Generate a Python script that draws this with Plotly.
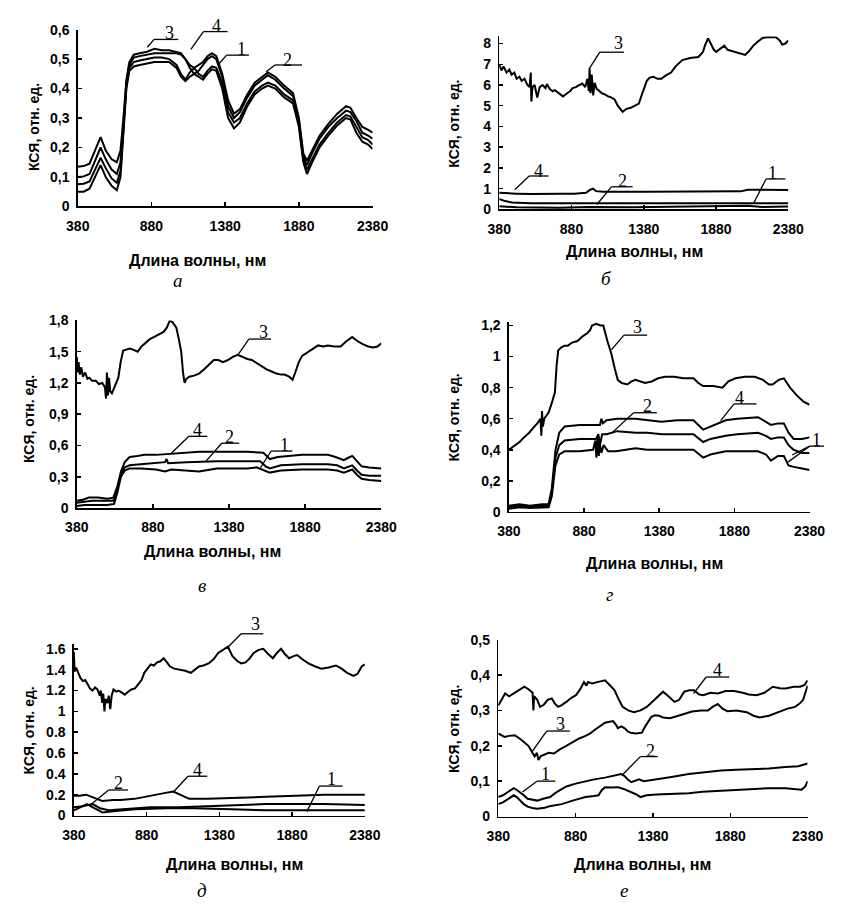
import plotly.graph_objects as go

W, H = 842, 909

# ---------------- DATA ----------------
TICK_X = [380, 880, 1380, 1880, 2380]
TICK_X_TEXT = ["380", "880", "1380", "1880", "2380"]

# panel а (shared wavelengths)
A_WL = [380, 420, 460, 500, 535, 570, 610, 645, 670, 690, 710, 730, 760, 800, 850, 900, 950, 1000, 1050, 1080,
        1110, 1140, 1170, 1200, 1230, 1260, 1290, 1320, 1360, 1400, 1440, 1480, 1530, 1580, 1630, 1670, 1720, 1780,
        1840, 1880, 1910, 1935, 1970, 2020, 2080, 2140, 2200, 2230, 2270, 2310, 2350, 2380]
A_C3 = [0.135, 0.137, 0.145, 0.19, 0.235, 0.19, 0.16, 0.15, 0.19, 0.30, 0.43, 0.49, 0.515, 0.52, 0.525, 0.535, 0.53, 0.53,
        0.525, 0.52, 0.50, 0.48, 0.47, 0.48, 0.49, 0.51, 0.52, 0.51, 0.45, 0.36, 0.315, 0.33, 0.38, 0.42, 0.44, 0.455,
        0.44, 0.41, 0.385, 0.30, 0.18, 0.155, 0.19, 0.24, 0.28, 0.315, 0.34, 0.335, 0.30, 0.27, 0.26, 0.25]
A_C4 = [0.10, 0.102, 0.11, 0.16, 0.20, 0.16, 0.125, 0.11, 0.15, 0.28, 0.42, 0.48, 0.505, 0.51, 0.515, 0.52, 0.52, 0.52,
        0.52, 0.515, 0.50, 0.47, 0.45, 0.46, 0.48, 0.50, 0.51, 0.50, 0.44, 0.34, 0.30, 0.32, 0.37, 0.41, 0.43, 0.445,
        0.43, 0.40, 0.375, 0.29, 0.17, 0.14, 0.18, 0.23, 0.27, 0.30, 0.325, 0.32, 0.29, 0.25, 0.24, 0.23]
A_C1 = [0.075, 0.077, 0.085, 0.13, 0.165, 0.13, 0.095, 0.08, 0.12, 0.26, 0.41, 0.47, 0.49, 0.495, 0.50, 0.505, 0.505, 0.50,
        0.48, 0.45, 0.43, 0.455, 0.47, 0.45, 0.44, 0.46, 0.475, 0.47, 0.42, 0.32, 0.285, 0.30, 0.35, 0.39, 0.41, 0.42,
        0.41, 0.38, 0.36, 0.28, 0.16, 0.125, 0.16, 0.21, 0.25, 0.285, 0.31, 0.305, 0.27, 0.235, 0.225, 0.21]
A_C2 = [0.05, 0.05, 0.06, 0.10, 0.14, 0.10, 0.07, 0.055, 0.10, 0.25, 0.40, 0.46, 0.475, 0.48, 0.485, 0.49, 0.49, 0.49,
        0.47, 0.44, 0.425, 0.44, 0.45, 0.44, 0.43, 0.45, 0.465, 0.46, 0.40, 0.30, 0.265, 0.285, 0.34, 0.38, 0.40, 0.41,
        0.40, 0.37, 0.35, 0.27, 0.15, 0.11, 0.15, 0.20, 0.24, 0.275, 0.30, 0.295, 0.25, 0.22, 0.21, 0.195]

# panel б
B_WL3 = [380, 395, 410, 430, 450, 465, 485, 500, 520, 535, 555, 575, 590, 598, 602, 610, 625, 643, 660, 680, 700, 710,
         730, 750, 765, 790, 821, 850, 870, 888, 910, 935, 955, 975, 990, 1000, 1005, 1012, 1020, 1030, 1040, 1055,
         1067, 1090, 1110, 1134, 1155, 1178, 1200, 1234, 1260, 1290, 1320, 1346, 1370, 1401, 1420, 1446, 1475, 1502,
         1530, 1569, 1600, 1647, 1700, 1758, 1790, 1803, 1825, 1845, 1865, 1881, 1910, 1937, 1960, 2004, 2040, 2082,
         2110, 2138, 2170, 2205, 2250, 2295, 2320, 2338, 2360, 2380]
B_C3 = [7.0, 6.7, 6.9, 6.6, 6.75, 6.5, 6.6, 6.3, 6.4, 6.2, 6.3, 6.0, 5.9, 6.6, 5.2, 5.9, 6.0, 5.4, 5.9, 6.0, 5.85, 6.05,
        5.8, 5.7, 5.75, 5.6, 5.45, 5.6, 5.7, 5.85, 5.9, 6.0, 6.07, 5.9, 6.3, 5.7, 6.8, 5.6, 6.5, 5.5, 6.1, 5.8,
        5.75, 5.6, 5.55, 5.45, 5.4, 5.3, 5.0, 4.7, 4.85, 4.9, 5.0, 5.1, 5.6, 6.2, 6.35, 6.4, 6.3, 6.3,
        6.45, 6.6, 6.9, 7.2, 7.3, 7.35, 7.6, 7.9, 8.25, 8.0, 7.7, 7.6, 7.75, 7.9, 7.7, 7.6, 7.55, 7.45,
        7.65, 7.9, 8.1, 8.28, 8.32, 8.3, 8.15, 7.95, 8.0, 8.15]
B_WL4 = [380, 420, 500, 600, 700, 800, 900, 980, 1010, 1030, 1050, 1100, 1400, 1800, 2050, 2100, 2380]
B_C4 = [0.8, 0.78, 0.76, 0.74, 0.73, 0.75, 0.76, 0.8, 0.95, 1.0, 0.88, 0.85, 0.85, 0.86, 0.87, 0.95, 0.93]
B_WL2 = [380, 420, 470, 600, 1000, 1500, 2000, 2380]
B_C2 = [0.5, 0.4, 0.33, 0.3, 0.3, 0.31, 0.32, 0.3]
B_WL1 = [380, 500, 800, 1000, 1300, 1600, 1900, 2100, 2200, 2380]
B_C1 = [0.15, 0.1, 0.08, 0.12, 0.1, 0.12, 0.14, 0.18, 0.12, 0.14]

# panel в
V_WL3 = [380, 385, 392, 400, 410, 420, 435, 450, 463, 480, 505, 525, 547, 565, 572, 578, 585, 592, 600, 611, 625, 640,
         653, 668, 685, 705, 727, 750, 780, 805, 833, 860, 886, 910, 930, 950, 971, 992, 1010, 1034, 1050, 1066, 1078,
         1088, 1100, 1119, 1150, 1183, 1215, 1246, 1280, 1310, 1340, 1373, 1405, 1437, 1470, 1500, 1530, 1564, 1595,
         1627, 1660, 1691, 1720, 1744, 1775, 1797, 1815, 1838, 1860, 1880, 1920, 1965, 2000, 2029, 2070, 2113, 2150,
         2189, 2225, 2261, 2295, 2325, 2355, 2380]
V_C3 = [1.45, 1.3, 1.4, 1.28, 1.35, 1.26, 1.3, 1.24, 1.25, 1.22, 1.22, 1.19, 1.2, 1.16, 1.05, 1.3, 1.08, 1.25, 1.12, 1.1,
        1.15, 1.2, 1.25, 1.4, 1.51, 1.52, 1.53, 1.52, 1.5, 1.55, 1.59, 1.62, 1.64, 1.66, 1.67, 1.69, 1.73, 1.8, 1.78,
        1.73, 1.62, 1.5, 1.3, 1.2, 1.24, 1.26, 1.27, 1.29, 1.33, 1.37, 1.42, 1.42, 1.4, 1.42, 1.45, 1.47, 1.45, 1.43,
        1.42, 1.39, 1.36, 1.33, 1.31, 1.29, 1.28, 1.28, 1.26, 1.23, 1.3, 1.4, 1.46, 1.48, 1.52, 1.56, 1.55, 1.56,
        1.55, 1.55, 1.6, 1.64, 1.6, 1.57, 1.55, 1.54, 1.55, 1.58]
V_WL4 = [380, 420, 460, 520, 580, 620, 645, 670, 695, 727, 780, 822, 900, 992, 1100, 1183, 1300, 1400, 1500, 1606,
         1630, 1648, 1700, 1760, 1859, 1950, 2029, 2080, 2134, 2160, 2189, 2220, 2251, 2300, 2380]
V_C4 = [0.07, 0.08, 0.1, 0.1, 0.09, 0.1, 0.2, 0.35, 0.44, 0.49, 0.5, 0.51, 0.51, 0.52, 0.53, 0.54, 0.54, 0.54, 0.54,
        0.53, 0.5, 0.47, 0.49, 0.5, 0.51, 0.51, 0.51, 0.49, 0.46, 0.48, 0.5, 0.45, 0.4, 0.39, 0.38]
V_WL2 = [380, 420, 480, 560, 620, 645, 670, 695, 727, 800, 900, 960, 970, 980, 1100, 1300, 1500, 1584, 1620, 1648,
         1720, 1859, 2029, 2090, 2134, 2189, 2220, 2251, 2300, 2380]
V_C2 = [0.05, 0.06, 0.07, 0.07, 0.07, 0.17, 0.32, 0.39, 0.41, 0.42, 0.43, 0.44, 0.47, 0.43, 0.44, 0.45, 0.45, 0.45,
        0.4, 0.38, 0.41, 0.42, 0.42, 0.41, 0.38, 0.41, 0.36, 0.32, 0.31, 0.31]
V_WL1 = [380, 430, 500, 580, 625, 645, 670, 695, 727, 800, 900, 960, 1000, 1100, 1183, 1300, 1400, 1500, 1560, 1600,
         1648, 1720, 1859, 2029, 2090, 2134, 2189, 2220, 2251, 2300, 2380]
V_C1 = [0.02, 0.03, 0.03, 0.03, 0.04, 0.14, 0.3, 0.36, 0.38, 0.38, 0.37, 0.35, 0.37, 0.36, 0.35, 0.38, 0.38, 0.38,
        0.39, 0.37, 0.34, 0.36, 0.37, 0.37, 0.36, 0.34, 0.37, 0.32, 0.28, 0.27, 0.26]

# panel г
G_WL3 = [380, 420, 451, 480, 515, 540, 569, 590, 596, 600, 606, 615, 644, 665, 686, 698, 708, 729, 750, 772, 800, 836,
         870, 901, 920, 933, 960, 990, 1008, 1035, 1061, 1085, 1104, 1130, 1168, 1195, 1222, 1255, 1286, 1330, 1372,
         1420, 1479, 1540, 1608, 1640, 1672, 1740, 1801, 1840, 1887, 1950, 2016, 2070, 2110, 2134, 2175, 2209, 2250,
         2295, 2340, 2380]
G_C3 = [0.4, 0.43, 0.45, 0.48, 0.51, 0.54, 0.57, 0.6, 0.49, 0.65, 0.55, 0.6, 0.64, 0.7, 0.77, 0.95, 1.04, 1.06, 1.07,
        1.07, 1.09, 1.1, 1.13, 1.15, 1.17, 1.2, 1.21, 1.2, 1.2, 1.1, 1.02, 0.92, 0.85, 0.83, 0.82, 0.84, 0.85, 0.84,
        0.83, 0.84, 0.86, 0.87, 0.87, 0.86, 0.86, 0.83, 0.81, 0.81, 0.8, 0.84, 0.86, 0.87, 0.87, 0.85, 0.82, 0.82,
        0.85, 0.86, 0.8, 0.75, 0.71, 0.69]
G_WL4 = [380, 450, 520, 600, 644, 665, 690, 715, 751, 850, 960, 986, 995, 1005, 1030, 1100, 1222, 1300, 1394, 1500,
         1608, 1672, 1720, 1822, 1900, 2037, 2090, 2123, 2170, 2209, 2240, 2274, 2330, 2380]
G_C4 = [0.04, 0.05, 0.04, 0.05, 0.05, 0.15, 0.4, 0.51, 0.55, 0.56, 0.56, 0.56, 0.6, 0.57, 0.59, 0.6, 0.6, 0.59, 0.58,
        0.59, 0.59, 0.53, 0.55, 0.59, 0.6, 0.61, 0.58, 0.56, 0.57, 0.57, 0.51, 0.47, 0.47, 0.48]
G_WL2 = [380, 450, 520, 600, 644, 665, 690, 715, 751, 850, 960, 975, 986, 1000, 1030, 1100, 1222, 1300, 1400, 1500,
         1608, 1672, 1720, 1822, 1900, 2037, 2090, 2123, 2170, 2209, 2240, 2274, 2330, 2380]
G_C2 = [0.03, 0.04, 0.035, 0.04, 0.04, 0.12, 0.35, 0.43, 0.46, 0.47, 0.47, 0.5, 0.43, 0.5, 0.5, 0.52, 0.51, 0.51, 0.5,
        0.5, 0.5, 0.45, 0.47, 0.49, 0.5, 0.51, 0.49, 0.47, 0.48, 0.48, 0.43, 0.4, 0.38, 0.38]
G_WL1 = [380, 450, 520, 600, 644, 665, 690, 715, 751, 850, 940, 955, 962, 970, 978, 985, 995, 1010, 1040, 1093, 1150,
         1222, 1300, 1400, 1500, 1608, 1672, 1720, 1822, 1900, 2037, 2090, 2123, 2170, 2209, 2240, 2274, 2330, 2380]
G_C1 = [0.02, 0.03, 0.025, 0.03, 0.03, 0.1, 0.3, 0.37, 0.39, 0.39, 0.4, 0.46, 0.35, 0.48, 0.36, 0.44, 0.38, 0.43,
        0.39, 0.39, 0.4, 0.41, 0.4, 0.4, 0.4, 0.4, 0.35, 0.37, 0.39, 0.39, 0.39, 0.37, 0.33, 0.36, 0.36, 0.3, 0.29,
        0.28, 0.27]

# panel д
D_WL3 = [380, 385, 395, 409, 425, 442, 458, 475, 490, 508, 525, 542, 558, 565, 575, 582, 590, 597, 610, 620, 630, 640,
         652, 670, 686, 710, 730, 755, 775, 800, 820, 845, 864, 885, 908, 930, 952, 975, 997, 1020, 1041, 1070, 1107,
         1145, 1184, 1210, 1240, 1270, 1306, 1340, 1372, 1405, 1439, 1470, 1505, 1530, 1560, 1590, 1616, 1650, 1682,
         1715, 1748, 1775, 1804, 1830, 1859, 1890, 1915, 1950, 1992, 2040, 2081, 2130, 2181, 2220, 2258, 2302, 2330,
         2358, 2380]
D_C3 = [1.57, 1.38, 1.42, 1.37, 1.32, 1.29, 1.3, 1.26, 1.22, 1.2, 1.23, 1.21, 1.15, 1.2, 1.08, 1.17, 1.0, 1.12, 1.08,
        1.15, 1.02, 1.15, 1.21, 1.19, 1.2, 1.18, 1.16, 1.19, 1.21, 1.22, 1.26, 1.3, 1.37, 1.41, 1.45, 1.44, 1.47, 1.48,
        1.51, 1.47, 1.43, 1.41, 1.4, 1.39, 1.37, 1.4, 1.43, 1.44, 1.46, 1.5, 1.56, 1.59, 1.62, 1.53, 1.48, 1.46, 1.47,
        1.51, 1.56, 1.59, 1.6, 1.55, 1.51, 1.56, 1.6, 1.55, 1.51, 1.53, 1.54, 1.5, 1.46, 1.43, 1.41, 1.42, 1.44, 1.41,
        1.37, 1.34, 1.36, 1.43, 1.45]
D_WL4 = [380, 420, 464, 520, 575, 650, 700, 797, 900, 1019, 1063, 1110, 1173, 1300, 1461, 1700, 1904, 2100, 2380]
D_C4 = [0.19, 0.19, 0.2, 0.17, 0.14, 0.15, 0.15, 0.16, 0.19, 0.22, 0.23, 0.2, 0.16, 0.16, 0.17, 0.18, 0.19, 0.2, 0.2]
D_WL1 = [380, 440, 508, 560, 619, 700, 800, 908, 1100, 1300, 1461, 1700, 1904, 2100, 2380]
D_C1 = [0.08, 0.09, 0.11, 0.07, 0.05, 0.06, 0.07, 0.08, 0.08, 0.09, 0.1, 0.11, 0.11, 0.11, 0.1]
D_WL2 = [380, 430, 470, 520, 577, 650, 800, 1019, 1200, 1461, 1700, 1904, 2100, 2380]
D_C2 = [0.05, 0.08, 0.11, 0.07, 0.03, 0.04, 0.06, 0.07, 0.07, 0.06, 0.05, 0.05, 0.05, 0.05]

# panel е
E_WL4 = [380, 424, 450, 486, 520, 549, 575, 590, 602, 607, 612, 632, 650, 674, 700, 726, 745, 767, 790, 820, 850, 882,
         910, 934, 950, 960, 986, 1020, 1070, 1100, 1132, 1160, 1184, 1220, 1257, 1300, 1340, 1390, 1445, 1480, 1519,
         1550, 1582, 1615, 1645, 1680, 1707, 1750, 1801, 1850, 1905, 1960, 2000, 2051, 2100, 2155, 2200, 2238, 2290,
         2332, 2360, 2380]
E_C4 = [0.314, 0.348, 0.34, 0.35, 0.36, 0.367, 0.36, 0.353, 0.35, 0.3, 0.34, 0.33, 0.31, 0.316, 0.33, 0.334, 0.32,
        0.31, 0.315, 0.324, 0.335, 0.343, 0.36, 0.38, 0.37, 0.38, 0.376, 0.38, 0.385, 0.372, 0.357, 0.33, 0.31, 0.3,
        0.295, 0.3, 0.31, 0.33, 0.353, 0.34, 0.324, 0.33, 0.353, 0.357, 0.357, 0.345, 0.343, 0.35, 0.348, 0.355,
        0.355, 0.35, 0.345, 0.343, 0.35, 0.367, 0.363, 0.362, 0.367, 0.367, 0.372, 0.385]
E_WL3 = [380, 420, 450, 486, 520, 549, 575, 601, 615, 630, 640, 653, 680, 705, 740, 778, 820, 861, 900, 944, 975, 1007,
         1040, 1070, 1100, 1122, 1140, 1153, 1175, 1195, 1220, 1236, 1270, 1309, 1330, 1351, 1370, 1392, 1420, 1445,
         1490, 1528, 1580, 1632, 1690, 1736, 1765, 1799, 1830, 1861, 1920, 1986, 2030, 2070, 2130, 2195, 2250, 2299,
         2330, 2351, 2370, 2380]
E_C3 = [0.235, 0.225, 0.228, 0.23, 0.22, 0.21, 0.2, 0.18, 0.17, 0.18, 0.16, 0.17, 0.175, 0.18, 0.178, 0.19, 0.2, 0.21,
        0.22, 0.228, 0.235, 0.246, 0.255, 0.265, 0.268, 0.27, 0.26, 0.25, 0.255, 0.25, 0.24, 0.237, 0.235, 0.237,
        0.255, 0.27, 0.282, 0.286, 0.285, 0.28, 0.278, 0.283, 0.29, 0.297, 0.3, 0.3, 0.31, 0.318, 0.305, 0.298, 0.3,
        0.295, 0.285, 0.28, 0.285, 0.295, 0.305, 0.31, 0.32, 0.33, 0.355, 0.37]
E_WL2 = [380, 410, 445, 480, 500, 518, 545, 570, 600, 632, 670, 715, 760, 820, 880, 944, 1000, 1070, 1120, 1174, 1195,
         1216, 1240, 1257, 1290, 1320, 1403, 1500, 1611, 1700, 1820, 1920, 2028, 2130, 2236, 2320, 2380]
E_C2 = [0.055, 0.06, 0.07, 0.08, 0.075, 0.07, 0.06, 0.05, 0.047, 0.045, 0.05, 0.055, 0.07, 0.085, 0.093, 0.1, 0.105,
        0.11, 0.115, 0.12, 0.115, 0.105, 0.097, 0.1, 0.105, 0.1, 0.105, 0.112, 0.12, 0.125, 0.13, 0.132, 0.133, 0.136,
        0.14, 0.142, 0.15]
E_WL1 = [380, 410, 445, 480, 500, 520, 545, 570, 600, 632, 680, 720, 790, 860, 944, 1000, 1028, 1050, 1070, 1110, 1153,
         1190, 1236, 1270, 1299, 1340, 1403, 1500, 1611, 1700, 1820, 1920, 2028, 2130, 2236, 2300, 2341, 2365, 2380]
E_C1 = [0.035, 0.04, 0.05, 0.06, 0.055, 0.045, 0.035, 0.028, 0.024, 0.022, 0.025, 0.03, 0.035, 0.045, 0.055, 0.058,
        0.06, 0.075, 0.083, 0.082, 0.083, 0.078, 0.07, 0.063, 0.055, 0.06, 0.062, 0.064, 0.066, 0.07, 0.073, 0.075,
        0.078, 0.08, 0.08, 0.077, 0.076, 0.085, 0.1]

# ---------------- LAYOUT CONFIG ----------------
# plot area in pixels: (left, right, top, bottom)
PANELS = [
    dict(box=(68, 373, 22, 202), ymax=0.6, yt=[0, 0.1, 0.2, 0.3, 0.4, 0.5, 0.6],
         ytt=["0", "0,1", "0,2", "0,3", "0,4", "0,5", "0,6"],
         series=[(A_WL, A_C1), (A_WL, A_C2), (A_WL, A_C3), (A_WL, A_C4)],
         xtitle=(192, 257), ytitle=(23, 121), letter=("а", 172, 277)),
    dict(box=(504, 803, 29, 205), ymax=8.34, yt=[0, 1, 2, 3, 4, 5, 6, 7, 8],
         ytt=["0", "1", "2", "3", "4", "5", "6", "7", "8"],
         series=[(B_WL1, B_C1), (B_WL2, B_C2), (B_WL3, B_C3), (B_WL4, B_C4)],
         xtitle=(644, 248), ytitle=(457, 118), letter=("б", 615, 275)),
    dict(box=(67, 382, 318, 509), ymax=1.8, yt=[0, 0.3, 0.6, 0.9, 1.2, 1.5, 1.8],
         ytt=["0", "0,3", "0,6", "0,9", "1,2", "1,5", "1,8"],
         series=[(V_WL1, V_C1), (V_WL2, V_C2), (V_WL3, V_C3), (V_WL4, V_C4)],
         xtitle=(207, 553), ytitle=(17, 418), letter=("в", 197, 588)),
    dict(box=(514, 825, 320, 513), ymax=1.22, yt=[0, 0.2, 0.4, 0.6, 0.8, 1.0, 1.2],
         ytt=["0", "0,2", "0,4", "0,6", "0,8", "1", "1,2"],
         series=[(G_WL1, G_C1), (G_WL2, G_C2), (G_WL3, G_C3), (G_WL4, G_C4)],
         xtitle=(665, 565), ytitle=(457, 417), letter=("г", 618, 597)),
    dict(box=(64, 365, 647, 822), ymax=1.65, yt=[0, 0.2, 0.4, 0.6, 0.8, 1.0, 1.2, 1.4, 1.6],
         ytt=["0", "0.2", "0.4", "0.6", "0.8", "1", "1.2", "1.4", "1.6"],
         series=[(D_WL1, D_C1), (D_WL2, D_C2), (D_WL3, D_C3), (D_WL4, D_C4)],
         xtitle=(230, 872), ytitle=(18, 735), letter=("д", 197, 898)),
    dict(box=(503, 823, 643, 823), ymax=0.5, yt=[0, 0.1, 0.2, 0.3, 0.4, 0.5],
         ytt=["0", "0,1", "0,2", "0,3", "0,4", "0,5"],
         series=[(E_WL1, E_C1), (E_WL2, E_C2), (E_WL3, E_C3), (E_WL4, E_C4)],
         xtitle=(652, 872), ytitle=(457, 734), letter=("е", 633, 898)),
]

# curve number labels: (number, text px, text py, hline x0, hline x1, hline y, leader ends)
LABELS = [
    ("3", 163, 25, 147, 172, 32, [(140, 40)]),
    ("4", 212, 18, 198, 223, 24, [(185, 42)]),
    ("1", 237, 42, 222, 245, 48, [(213, 58)]),
    ("2", 285, 53, 272, 300, 58, [(263, 65)]),
    ("3", 627, 36, 608, 633, 45, [(597, 62)]),
    ("4", 545, 166, 535, 555, 171, [(520, 185)]),
    ("2", 632, 176, 620, 642, 182, [(605, 200)]),
    ("1", 787, 168, 780, 800, 174, [(767, 199)]),
    ("3", 260, 330, 245, 268, 337, [(233, 354)]),
    ("4", 192, 430, 183, 202, 436, [(165, 453)]),
    ("2", 225, 437, 217, 235, 443, [(200, 462)]),
    ("1", 282, 445, 268, 290, 451, [(257, 468)]),
    ("3", 647, 325, 633, 657, 333, [(620, 348)]),
    ("2", 657, 405, 643, 667, 412, [(620, 433)]),
    ("4", 753, 397, 747, 770, 403, [(733, 420)]),
    ("1", 832, 440, 825, 840, 446, [(807, 455), (803, 462)]),
    ("3", 252, 627, 237, 260, 637, [(222, 652)]),
    ("2", 110, 789, 100, 120, 796, [(80, 812)]),
    ("4", 192, 776, 182, 202, 782, [(167, 798)]),
    ("1", 330, 785, 318, 342, 792, [(305, 818)]),
    ("4", 730, 674, 718, 742, 681, [(705, 698)]),
    ("3", 567, 729, 553, 577, 736, [(538, 757)]),
    ("2", 660, 756, 650, 668, 762, [(632, 780)]),
    ("1", 552, 780, 543, 562, 787, [(528, 798)]),
]


def px(x):
    return x / W


def py(y):
    return 1 - y / H


fig = go.Figure()
layout = dict(width=W, height=H, margin=dict(l=0, r=0, t=0, b=0),
              paper_bgcolor="white", plot_bgcolor="white", showlegend=False)
annotations = []
shapes = []

TICKFONT = dict(family="Liberation Sans", size=14, color="black", weight="bold")

for i, p in enumerate(PANELS, start=1):
    l, r, t, b = p["box"]
    xa = "xaxis" if i == 1 else f"xaxis{i}"
    ya = "yaxis" if i == 1 else f"yaxis{i}"
    xr = "x" if i == 1 else f"x{i}"
    yr = "y" if i == 1 else f"y{i}"
    layout[xa] = dict(domain=[px(l), px(r)], anchor=yr, range=[380, 2380], tickvals=TICK_X,
                      ticktext=TICK_X_TEXT, ticks="inside", ticklen=4, tickwidth=1.5, tickcolor="black",
                      showline=True, linecolor="black", linewidth=1.5, showgrid=False, zeroline=False,
                      tickfont=TICKFONT, ticklabelstandoff=6, fixedrange=True)
    layout[ya] = dict(domain=[py(b), py(t)], anchor=xr, range=[0, p["ymax"]], tickvals=p["yt"],
                      ticktext=p["ytt"], ticks="inside", ticklen=4, tickwidth=1.5, tickcolor="black",
                      showline=True, linecolor="black", linewidth=1.5, showgrid=False, zeroline=False,
                      tickfont=TICKFONT, ticklabelstandoff=4, fixedrange=True)
    for wl, vals in p["series"]:
        fig.add_trace(go.Scatter(x=wl, y=vals, mode="lines", xaxis=xr, yaxis=yr,
                                 line=dict(color="black", width=2), hoverinfo="skip"))
    tx, ty = p["xtitle"]
    annotations.append(dict(text="Длина волны, нм", x=px(tx), y=py(ty), xref="paper", yref="paper",
                            showarrow=False, xanchor="center", yanchor="middle",
                            font=dict(family="Liberation Sans", size=16, color="black", weight="bold")))
    yx, yy = p["ytitle"]
    annotations.append(dict(text="КСЯ, отн. ед.", x=px(yx), y=py(yy), xref="paper", yref="paper",
                            showarrow=False, xanchor="center", yanchor="middle", textangle=-90,
                            font=dict(family="Liberation Sans", size=14, color="black", weight="bold")))
    lt, lx, ly = p["letter"]
    annotations.append(dict(text=lt, x=px(lx), y=py(ly), xref="paper", yref="paper",
                            showarrow=False, xanchor="center", yanchor="middle",
                            font=dict(family="Liberation Serif", size=19, color="black", style="italic")))

for num, tx, ty, hx0, hx1, hy, ends in LABELS:
    annotations.append(dict(text=num, x=px(tx), y=py(ty), xref="paper", yref="paper", showarrow=False,
                            xanchor="center", yanchor="middle",
                            font=dict(family="Liberation Serif", size=18, color="black")))
    shapes.append(dict(type="line", xref="paper", yref="paper", x0=px(hx0), x1=px(hx1), y0=py(hy), y1=py(hy),
                       line=dict(color="black", width=1.3)))
    for ex, ey in ends:
        shapes.append(dict(type="line", xref="paper", yref="paper", x0=px(hx0), x1=px(ex), y0=py(hy), y1=py(ey),
                           line=dict(color="black", width=1.3)))

layout["annotations"] = annotations
layout["shapes"] = shapes
fig.update_layout(**layout)
fig.write_html("out.html", config={"displayModeBar": False, "staticPlot": True},
               post_script="document.body.style.margin='0';document.body.style.overflow='hidden';")
